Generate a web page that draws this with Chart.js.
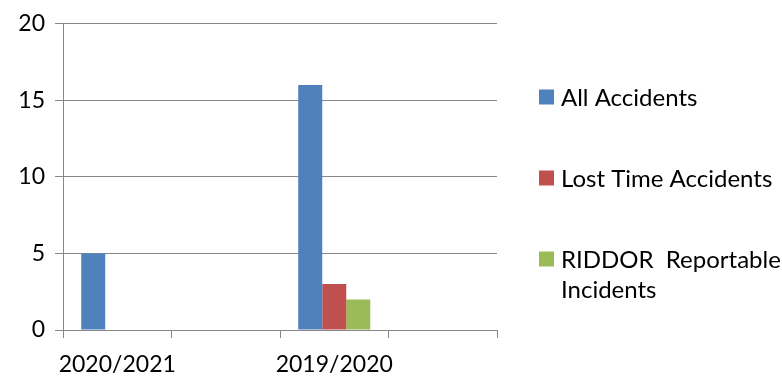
<!DOCTYPE html>
<html>
<head>
<meta charset="utf-8">
<script src="https://cdn.jsdelivr.net/npm/chart.js@4/dist/chart.umd.min.js"></script>
<style>
    html, body { margin: 0; padding: 0; background: #fff; }
    #accidentChart { display: block; }
</style>
</head>
<body>
<canvas id="accidentChart" width="782" height="380"></canvas>
<script>
const categories = ['2020/2021', '', '2019/2020', ''];
const allAccidents = [5, null, 16, null];
const lostTimeAccidents = [0, null, 3, null];
const riddorIncidents = [0, null, 2, null];
const seriesNames = ['All Accidents', 'Lost Time Accidents', 'RIDDOR  Reportable Incidents'];
const seriesColors = ['#4F81BD', '#C0504D', '#9BBB59'];
const yTicks = [0, 5, 10, 15, 20];

const gridColor = '#878787';
const fontFamily = 'Lato, "Liberation Sans", sans-serif';

Chart.defaults.font.family = fontFamily;
Chart.defaults.font.size = 23;
Chart.defaults.color = '#000';

// split a legend label into lines that fit the space on the right
function wrapText(ctx, text, maxWidth) {
    const words = text.split(' ');
    const lines = [];
    let line = '';
    words.forEach(function (w) {
        const test = line === '' ? w : line + ' ' + w;
        if (line !== '' && w !== '' && ctx.measureText(test).width > maxWidth) {
            lines.push(line);
            line = w;
        } else {
            line = test;
        }
    });
    lines.push(line);
    return lines;
}

const sideLegend = {
    id: 'sideLegend',
    afterDraw(chart) {
        const ctx = chart.ctx;
        const boxX = 539, boxSize = 15, textX = 561;
        const firstY = 97, step = 81, lineH = 30;
        ctx.save();
        ctx.font = '24px ' + fontFamily;
        ctx.textBaseline = 'middle';
        chart.data.datasets.forEach(function (ds, i) {
            const y = firstY + i * step;
            ctx.fillStyle = ds.backgroundColor;
            ctx.fillRect(boxX, y - boxSize / 2, boxSize, boxSize);
            ctx.fillStyle = '#000';
            const lines = wrapText(ctx, ds.label, 782 - textX);
            lines.forEach(function (l, j) {
                ctx.fillText(l, textX, y + 1 + j * lineH);
            });
        });
        ctx.restore();
    }
};

let ctx = document.getElementById('accidentChart');
const accidentChart = new Chart(ctx, {
    type: 'bar',
    data: {
        labels: categories,
        datasets: [
            { label: seriesNames[0], data: allAccidents, backgroundColor: seriesColors[0] },
            { label: seriesNames[1], data: lostTimeAccidents, backgroundColor: seriesColors[1] },
            { label: seriesNames[2], data: riddorIncidents, backgroundColor: seriesColors[2] }
        ]
    },
    options: {
        responsive: false,
        animation: false,
        categoryPercentage: 0.664,
        barPercentage: 1,
        layout: { padding: { top: 20, right: 285, left: 0, bottom: 0 } },
        plugins: {
            legend: { display: false },
            tooltip: { enabled: false }
        },
        scales: {
            x: {
                grid: {
                    offset: true,
                    drawOnChartArea: false,
                    drawTicks: true,
                    tickLength: 8,
                    color: gridColor
                },
                border: { color: gridColor },
                ticks: { autoSkip: false, maxRotation: 0, padding: 13 },
                afterFit(scale) { scale.height = 50; }
            },
            y: {
                min: 0,
                max: 20,
                afterBuildTicks(scale) {
                    scale.ticks = yTicks.map(function (v) { return { value: v }; });
                },
                grid: { color: gridColor, tickLength: 8 },
                border: { color: gridColor },
                ticks: { padding: 10 },
                afterFit(scale) { scale.width = 63; }
            }
        }
    },
    plugins: [sideLegend]
});
</script>
</body>
</html>
